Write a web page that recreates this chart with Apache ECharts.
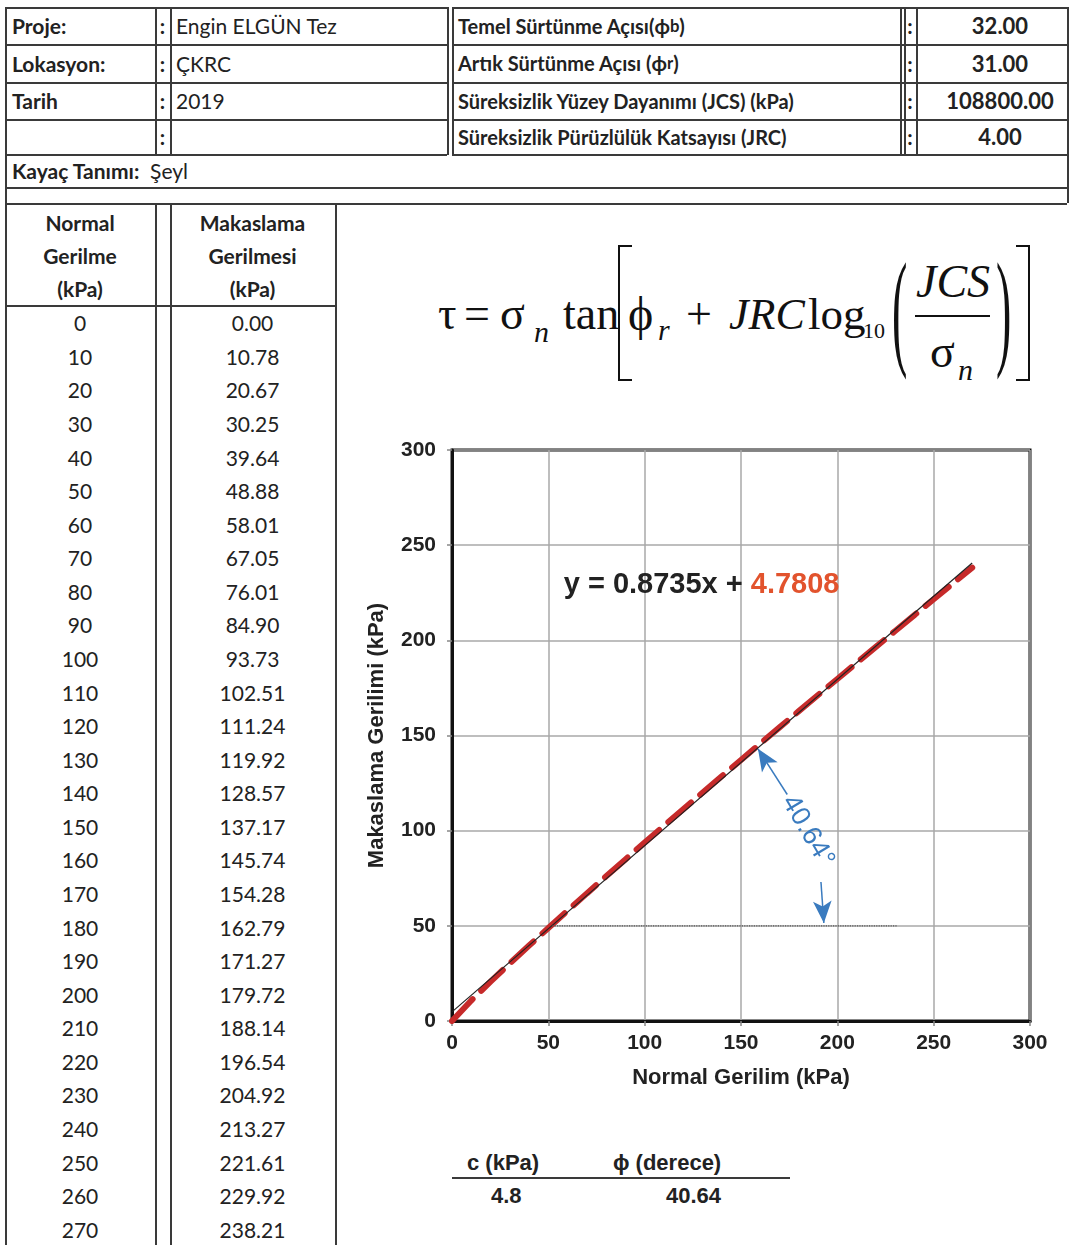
<!DOCTYPE html>
<html>
<head>
<meta charset="utf-8">
<script src="https://cdn.jsdelivr.net/npm/echarts@6/dist/echarts.min.js"></script>
<style>
  body { margin: 0; background: #fff; }
  #page { position: relative; width: 1070px; height: 1245px; overflow: hidden; font-family: Lato, 'Open Sans', sans-serif; color: #222; }
  .ln { position: absolute; background: #3a3a3a; }
  .cell { position: absolute; display: flex; align-items: center; white-space: nowrap; font-size: 21px; }
  .fm { position: absolute; font-family: 'Liberation Serif', serif; line-height: 1; white-space: nowrap; color: #111; }
  .bt { position: absolute; font-family: 'Liberation Sans', Arial, sans-serif; font-weight: bold; font-size: 22px; color: #222; white-space: nowrap; }
  #chart { position: absolute; left: 340px; top: 400px; width: 730px; height: 720px; }
</style>
</head>
<body>
<div id="page">
  <div id="chart"></div>
</div>
<script>
// header info
const leftLabels = ['Proje:', 'Lokasyon:', 'Tarih', '']
const leftValues = ['Engin ELGÜN Tez', 'ÇKRC', '2019', '']
const rightLabels = [
  'Temel Sürtünme Açısı(ϕ<sub>b</sub>)',
  'Artık Sürtünme Açısı (ϕ<sub>r</sub>)',
  'Süreksizlik Yüzey Dayanımı (JCS) (kPa)',
  'Süreksizlik Pürüzlülük Katsayısı (JRC)',
]
const rightValues = ['32.00', '31.00', '108800.00', '4.00']

// table / chart data
const normalStress = [0, 10, 20, 30, 40, 50, 60, 70, 80, 90, 100, 110, 120, 130, 140, 150, 160, 170, 180, 190, 200, 210, 220, 230, 240, 250, 260, 270]
const shearStress = [0.00, 10.78, 20.67, 30.25, 39.64, 48.88, 58.01, 67.05, 76.01, 84.90, 93.73, 102.51, 111.24, 119.92, 128.57, 137.17, 145.74, 154.28, 162.79, 171.27, 179.72, 188.14, 196.54, 204.92, 213.27, 221.61, 229.92, 238.21]

// fitted line y = 0.8735x + 4.7808, ends
const trendX = [0, 270]
const trendY = [4.78, 240.63]
// dotted 50 kPa reference
const refX = [52, 231]
const refY = [50, 50]

const axisTicks = [0, 50, 100, 150, 200, 250, 300]
const cohesion = '4.8'
const frictionAngle = '40.64'

const page = document.getElementById('page')

const add = (cls, style, html) => {
  const el = document.createElement('div')
  el.className = cls
  Object.assign(el.style, style)
  if (html !== undefined) el.innerHTML = html
  page.appendChild(el)
  return el
}
const hline = (x1, x2, y, w = 1.5) => add('ln', { left: x1 + 'px', top: y + 'px', width: (x2 - x1) + 'px', height: w + 'px' })
const vline = (x, y1, y2, w = 1.5) => add('ln', { left: x + 'px', top: y1 + 'px', width: w + 'px', height: (y2 - y1) + 'px' })
const cell = (x, y, w, h, html, extra = {}) =>
  add('cell', Object.assign({ left: x + 'px', top: y + 'px', width: w + 'px', height: h + 'px' }, extra), html)

// header grid
const rowY = [7, 44, 82, 119, 154]
rowY.forEach((y) => { hline(5, 447, y); hline(452, 1067, y) })
hline(5, 1067, 187)
hline(5, 1067, 203)
hline(5, 335, 305)
vline(5, 7, 1245)
vline(155, 7, 154); vline(170, 7, 154)
vline(447, 7, 155); vline(452, 7, 155)
vline(900, 7, 155); vline(904, 7, 155); vline(916, 7, 155)
vline(1067, 7, 203)
vline(155, 203, 1245); vline(170, 203, 1245); vline(335, 203, 1245)

for (let i = 0; i < 4; i++) {
  const y = rowY[i], h = rowY[i + 1] - rowY[i]
  cell(12, y, 140, h, leftLabels[i], { fontWeight: 'bold' })
  cell(155, y, 15, h, ':', { justifyContent: 'center', fontWeight: 'bold' })
  cell(176, y, 260, h, leftValues[i])
  cell(458, y, 440, h, rightLabels[i], { fontWeight: 'bold', fontSize: '20px' })
  cell(904, y, 12, h, ':', { justifyContent: 'center', fontWeight: 'bold' })
  cell(930, y, 140, h, rightValues[i], { justifyContent: 'center', fontWeight: 'bold', fontSize: '22px' })
}
cell(12, 154, 500, 33, '<b>Kayaç Tanımı:</b>&nbsp; Şeyl')

// left data table
cell(5, 205, 150, 100, 'Normal<br>Gerilme<br>(kPa)', { justifyContent: 'center', textAlign: 'center', fontWeight: 'bold', lineHeight: '33px' })
cell(170, 205, 165, 100, 'Makaslama<br>Gerilmesi<br>(kPa)', { justifyContent: 'center', textAlign: 'center', fontWeight: 'bold', lineHeight: '33px' })
const rowH = (1245 - 305) / normalStress.length
normalStress.forEach((n, i) => {
  const y = 306 + i * rowH
  cell(5, y, 150, rowH, String(n), { justifyContent: 'center' })
  cell(170, y, 165, rowH, shearStress[i].toFixed(2), { justifyContent: 'center' })
})

// formula (Barton)
const fm = (x, baseline, size, html, extra = {}) =>
  add('fm', Object.assign({ left: x + 'px', top: (baseline - 0.84 * size) + 'px', fontSize: size + 'px' }, extra), html)
fm(438, 330, 46, 'τ')
fm(464, 330, 46, '=')
fm(500, 330, 46, 'σ')
fm(534, 342, 30, 'n', { fontStyle: 'italic' })
fm(563, 330, 46, 'tan')
fm(628, 330, 48, 'ϕ')
fm(658, 340, 30, 'r', { fontStyle: 'italic' })
fm(686, 330, 46, '+')
fm(729, 330, 44, 'JRC', { fontStyle: 'italic' })
fm(808, 330, 45, 'log')
fm(863, 338, 22, '10')
fm(916, 298, 46, 'JCS', { fontStyle: 'italic' })
fm(930, 368, 46, 'σ')
fm(958, 380, 30, 'n', { fontStyle: 'italic' })
add('ln', { left: '915px', top: '315px', width: '75px', height: '2px', background: '#111' })
// square brackets
add('ln', { left: '618px', top: '245px', width: '14px', height: '136px', background: 'transparent', borderLeft: '2.5px solid #111', borderTop: '2px solid #111', borderBottom: '2px solid #111', boxSizing: 'border-box' })
add('ln', { left: '1016px', top: '245px', width: '14px', height: '136px', background: 'transparent', borderRight: '2.5px solid #111', borderTop: '2px solid #111', borderBottom: '2px solid #111', boxSizing: 'border-box' })
// tall parentheses
fm(892, 334, 46, '(', { transform: 'scaleY(2.8)', transformOrigin: '50% 60%' })
fm(996, 334, 46, ')', { transform: 'scaleY(2.8)', transformOrigin: '50% 60%' })

// c / phi summary
add('bt', { left: '467px', top: '1150px' }, 'c (kPa)')
add('bt', { left: '613px', top: '1150px' }, 'ϕ (derece)')
hline(452, 790, 1177, 2)
add('bt', { left: '491px', top: '1183px' }, cohesion)
add('bt', { left: '666px', top: '1183px' }, frictionAngle)

// chart
const chart = echarts.init(document.getElementById('chart'))
const tickFont = { fontFamily: 'Liberation Sans', fontWeight: 'bold', fontSize: 21, color: '#222' }
const nameFont = { fontFamily: 'Liberation Sans', fontWeight: 'bold', fontSize: 22, color: '#222' }
const axisBase = {
  type: 'value',
  min: axisTicks[0],
  max: axisTicks[axisTicks.length - 1],
  interval: axisTicks[1] - axisTicks[0],
  nameLocation: 'middle',
  nameTextStyle: nameFont,
  axisLine: { show: true, onZero: false, lineStyle: { color: '#111', width: 3 } },
  axisTick: { show: true, length: 5, lineStyle: { color: '#888', width: 1.5 } },
  splitLine: { show: true, lineStyle: { color: '#a8a8a8', width: 1.5 } },
}

chart.setOption({
  animation: false,
  grid: { left: 112, top: 50, width: 578, height: 571, show: true, borderColor: '#111', borderWidth: 3 },
  xAxis: Object.assign({}, axisBase, {
    name: 'Normal Gerilim (kPa)',
    nameGap: 46,
    axisLabel: Object.assign({ margin: 12 }, tickFont),
  }),
  yAxis: Object.assign({}, axisBase, {
    name: 'Makaslama Gerilimi (kPa)',
    nameGap: 64,
    axisLabel: Object.assign({ margin: 16 }, tickFont),
  }),
  series: [
    {
      type: 'line',
      data: normalStress.map((x, i) => [x, shearStress[i]]),
      showSymbol: false,
      z: 2,
      lineStyle: { color: '#c62a2a', width: 6, type: [30, 12], cap: 'round' },
    },
    {
      type: 'line',
      data: trendX.map((x, i) => [x, trendY[i]]),
      showSymbol: false,
      z: 3,
      lineStyle: { color: '#222', width: 1.2 },
    },
    {
      type: 'line',
      data: refX.map((x, i) => [x, refY[i]]),
      showSymbol: false,
      z: 3,
      lineStyle: { color: '#555', width: 1.2, type: 'dotted' },
      markLine: {
        silent: true,
        symbol: ['none', 'arrow'],
        symbolSize: [14, 22],
        label: { show: false },
        lineStyle: { color: '#3a7bbf', width: 1.5, type: 'solid' },
        data: [
          [{ coord: [174, 119] }, { coord: [158.8, 143] }],
          [{ coord: [191.5, 73] }, { coord: [193, 51.5] }],
        ],
      },
    },
  ],
})

const eqPos = chart.convertToPixel({ gridIndex: 0 }, [58, 229])
const anglePos = chart.convertToPixel({ gridIndex: 0 }, [184.7, 99.7])
chart.setOption({
  graphic: [
    {
      type: 'text',
      x: eqPos[0],
      y: eqPos[1],
      z: 10,
      style: {
        text: '{a|y = 0.8735x + }{b|4.7808}',
        verticalAlign: 'middle',
        rich: {
          a: { fontFamily: 'Liberation Sans', fontWeight: 'bold', fontSize: 29, fill: '#222' },
          b: { fontFamily: 'Liberation Sans', fontWeight: 'bold', fontSize: 29, fill: '#e2532d' },
        },
      },
    },
    {
      type: 'text',
      x: anglePos[0],
      y: anglePos[1],
      rotation: -59.5 * Math.PI / 180,
      z: 10,
      style: {
        text: '40.64°',
        align: 'center',
        verticalAlign: 'middle',
        fontFamily: 'Liberation Sans',
        fontSize: 27,
        fill: '#3a7bbf',
      },
    },
  ],
})
</script>
</body>
</html>
